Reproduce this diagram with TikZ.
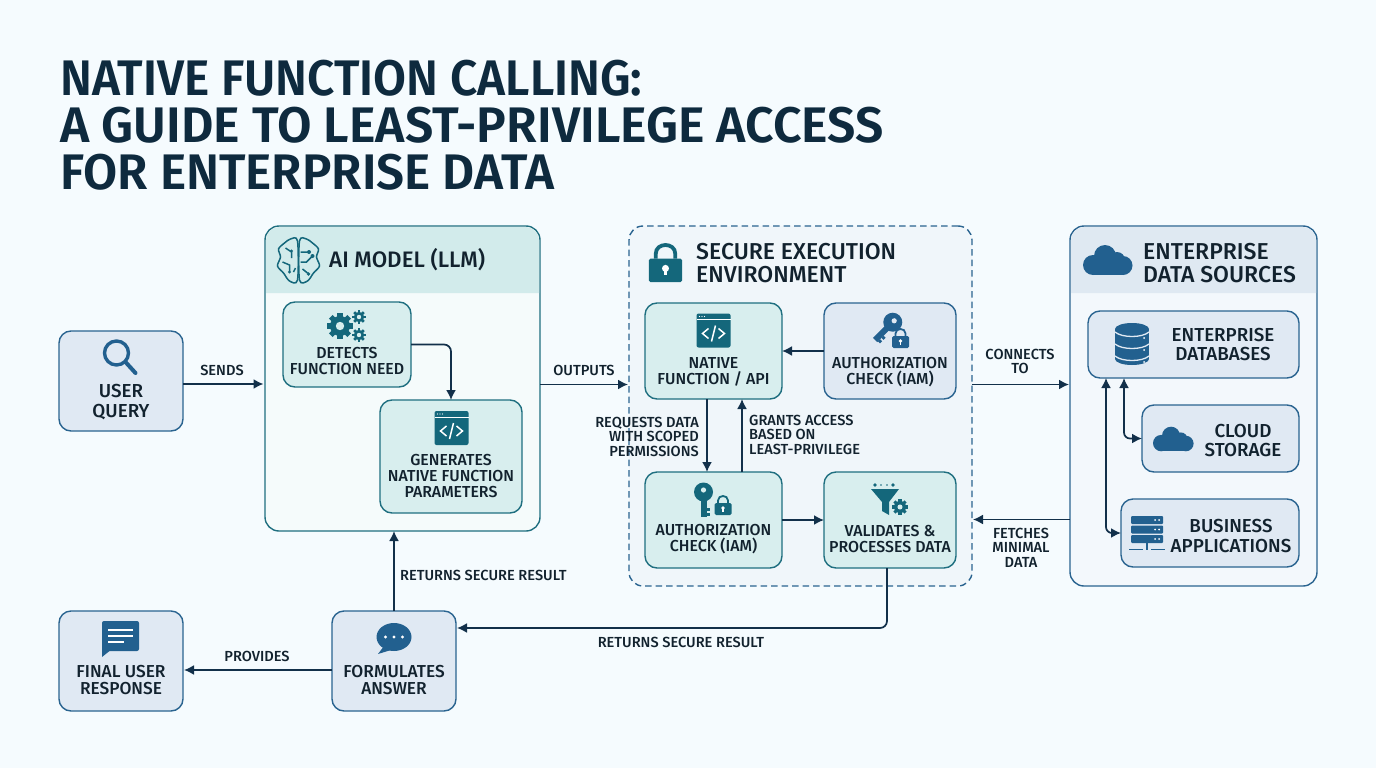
\documentclass[tikz,border=0pt]{standalone}
\usepackage{fontspec}
\setmainfont{Fira Sans Medium}
\newfontfamily\titlefont{Fira Sans SemiBold}
\usetikzlibrary{arrows.meta}

\definecolor{pagebg}{HTML}{F5FBFE}
\definecolor{inkdark}{HTML}{0E2A3E}
\definecolor{inktext}{HTML}{12222E}
\definecolor{linkdark}{HTML}{12304A}
\definecolor{tealline}{HTML}{1F6F80}
\definecolor{tealfill}{HTML}{D8EEEE}
\definecolor{tealhead}{HTML}{D2EBEB}
\definecolor{tealpanel}{HTML}{F5FBFB}
\definecolor{tealicon}{HTML}{14677B}
\definecolor{blueline}{HTML}{2A6490}
\definecolor{bluefill}{HTML}{E0E9F3}
\definecolor{bluehead}{HTML}{DFE9F2}
\definecolor{bluepanel}{HTML}{F3F8FC}
\definecolor{blueicon}{HTML}{22608F}
\definecolor{securefill}{HTML}{F0F6FA}

\tikzset{
	box/.style={rectangle,rounded corners=12pt,line width=1.4pt,outer sep=0pt,inner sep=0pt},
	tealbox/.style={box,draw=tealline,fill=tealfill},
	bluebox/.style={box,draw=blueline,fill=bluefill},
	boxtext/.style={text=inktext,align=center,inner sep=0pt,font=\fontsize{15.9}{16}\selectfont},
	bigtext/.style={text=inktext,align=center,inner sep=0pt,font=\fontsize{18.8}{19.5}\selectfont},
	headtext/.style={text=inktext,align=left,anchor=west,inner sep=0pt,font=\fontsize{23}{23}\selectfont},
	edgetext/.style={text=inktext,align=center,inner sep=0pt,font=\fontsize{14.6}{14.5}\selectfont},
	flow/.style={draw=linkdark,line width=1.7pt,->},
	pics/codeicon/.style={code={
		\fill[rounded corners=2pt] (-17,-17) rectangle (17,17);
		\draw[white,line width=.7pt] (-17,-11) -- (17,-11);
		\foreach \x in {-14,-11.5,-9}
			\fill[white] (\x,-14) circle (.7);
		\draw[white,line width=1.5pt] (-5,-2) -- (-11,3) -- (-5,8) (5,-2) -- (11,3) -- (5,8) (2,-5) -- (-2,11);
	}},
	pics/cogwheel/.style={code={
		\foreach \a in {0,45,...,315}
			\fill[rotate=\a] (-2.6,-13) rectangle (2.6,-8);
		\fill (0,0) circle (10);
		\fill[#1] (0,0) circle (4.2);
	}},
	pics/lockicon/.style={code={
		\fill[rounded corners=1.5pt] (-8.5,-3) rectangle (8.5,9);
		\draw[line width=#1] (-5,-3) -- (-5,-5.5) .. controls (-5,-11.5) and (5,-11.5) .. (5,-5.5) -- (5,-3);
		\fill[white] (0,2) circle (1.8);
		\fill[white] (-.8,2) rectangle (.8,5.5);
	}},
	pics/keyicon/.style={code={
		\fill (0,-11) circle (9.5);
		\fill (-3,-4) rectangle (3,14);
		\fill (3,5) rectangle (6,8);
		\fill (3,10) rectangle (6,13);
		\fill[#1] (0,-13) circle (2.6);
	}},
	pics/cloudicon/.style={code={
		\fill (-15,5) circle (10);
		\fill (-3,-4) circle (11);
		\fill (9,0) circle (8);
		\fill (15,5.5) circle (9.5);
		\fill (-15,3) rectangle (15,15);
	}},
	pics/dbicon/.style={code={
		\fill (-17,-15) rectangle (17,15);
		\fill (0,-15) ellipse (17 and 6);
		\fill (0,15) ellipse (17 and 6);
		\foreach \y in {-12,0,12} {
			\draw[bluefill,line width=1.3pt] (-17,\y) .. controls (-10,\y+6) and (10,\y+6) .. (17,\y);
			\fill[white] (12,\y+6) circle (1);
		}
	}},
	pics/servericon/.style={code={
		\foreach \y in {-13,-3.5,6} {
			\fill[rounded corners=1pt] (-16,\y) rectangle (16,\y+8);
			\fill[white] (8,\y+4) circle (1) (12,\y+4) circle (1);
		}
		\fill (-1,14) rectangle (1,21);
		\fill (-18,19.5) rectangle (-4,21);
		\fill (4,19.5) rectangle (18,21);
	}}
}

\begin{document}
\begin{tikzpicture}[x=1pt,y=-1pt,>={Latex[length=10pt,width=10pt]}]
	\useasboundingbox (0,0) rectangle (1376,768);
	\fill[pagebg] (0,0) rectangle (1376,768);

	\node[anchor=north west,inner sep=0pt,text=inkdark,align=left,font=\titlefont\fontsize{50}{47}\selectfont] (title) at (60,60)
		{\scalebox{.955}[1]{NATIVE FUNCTION CALLING:}\\A GUIDE TO LEAST-PRIVILEGE ACCESS\\\scalebox{.99}[1]{FOR ENTERPRISE DATA}};

	% panels
	\node[box,rounded corners=14pt,draw=tealline,fill=tealpanel,minimum width=275pt,minimum height=305pt] (model) at (402.5,378.5) {};
	\fill[tealhead] (266,293) [rounded corners=13pt] -- (266,227) -- (539,227) [sharp corners] -- (539,293) -- cycle;
	\node[box,rounded corners=14pt,draw=blueline,dash pattern=on 6.5pt off 4pt,fill=securefill,minimum width=343pt,minimum height=360pt] (secure) at (800.5,406) {};
	\node[box,rounded corners=14pt,draw=blueline,fill=bluepanel,minimum width=247pt,minimum height=360pt] (data) at (1193.5,406) {};
	\fill[bluehead] (1071,293) [rounded corners=13pt] -- (1071,227) -- (1316,227) [sharp corners] -- (1316,293) -- cycle;

	% boxes
	\node[bluebox,minimum width=124pt,minimum height=100pt] (user) at (121,381) {};
	\node[tealbox,minimum width=128pt,minimum height=85pt] (detect) at (347,344.5) {};
	\node[tealbox,minimum width=142pt,minimum height=113pt] (gen) at (451,456.5) {};
	\node[tealbox,minimum width=137pt,minimum height=96pt] (native) at (713.5,351) {};
	\node[bluebox,minimum width=132pt,minimum height=96pt] (authtop) at (890,351) {};
	\node[tealbox,minimum width=137pt,minimum height=96pt] (authlow) at (713.5,520) {};
	\node[tealbox,minimum width=132pt,minimum height=96pt] (valid) at (890,520) {};
	\node[bluebox,minimum width=211pt,minimum height=67pt] (dbs) at (1193.5,344.5) {};
	\node[bluebox,minimum width=157pt,minimum height=67pt] (cloud) at (1220.5,438.5) {};
	\node[bluebox,minimum width=178pt,minimum height=68pt] (apps) at (1210,533) {};
	\node[bluebox,minimum width=124pt,minimum height=100pt] (final) at (121,661) {};
	\node[bluebox,minimum width=124pt,minimum height=100pt] (answer) at (394,661) {};

	% box texts
	\node[bigtext] (usertxt) at (121,402) {USER\\QUERY};
	\node[boxtext] (detecttxt) at (347,361.5) {DETECTS\\FUNCTION NEED};
	\node[boxtext] (gentxt) at (451,476) {GENERATES\\NATIVE FUNCTION\\PARAMETERS};
	\node[boxtext] (nativetxt) at (713.5,371.5) {NATIVE\\FUNCTION / API};
	\node[boxtext] (authtoptxt) at (890,372.5) {AUTHORIZATION\\CHECK (IAM)};
	\node[boxtext] (authlowtxt) at (713.5,539.5) {AUTHORIZATION\\CHECK (IAM)};
	\node[boxtext] (validtxt) at (890,539.5) {VALIDATES \&\\PROCESSES DATA};
	\node[bigtext] (dbstxt) at (1223,344.5) {ENTERPRISE\\DATABASES};
	\node[bigtext] (cloudtxt) at (1243,440.5) {CLOUD\\STORAGE};
	\node[bigtext] (appstxt) at (1231,536) {BUSINESS\\APPLICATIONS};
	\node[boxtext,font=\fontsize{17.3}{17}\selectfont] (finaltxt) at (121,680.5) {FINAL USER\\RESPONSE};
	\node[boxtext,font=\fontsize{17.3}{17}\selectfont] (answertxt) at (394,680.5) {FORMULATES\\ANSWER};
	\node[headtext,font=\fontsize{22.4}{23}\selectfont] (modelhead) at (329,260) {AI MODEL (LLM)};
	\node[headtext] (securehead) at (696,263.5) {SECURE EXECUTION\\ENVIRONMENT};
	\node[headtext] (datahead) at (1143,263.5) {ENTERPRISE\\DATA SOURCES};

	% connectors
	\draw[flow] ([yshift=-3pt]user.east) -- ([yshift=-3pt,xshift=-1.5pt]user.east -| model.west);
	\draw[flow] ([yshift=21.5pt]secure.west -| model.east) -- ([yshift=21.5pt,xshift=-1pt]secure.west);
	\draw[flow,rounded corners=7pt] (detect.east) -| (gen.north);
	\draw[flow] (authtop.west) -- (native.east);
	\draw[flow] ([xshift=-6.5pt]native.south) -- ([xshift=-6.5pt]authlow.north);
	\draw[flow] ([xshift=28.5pt]authlow.north) -- ([xshift=28.5pt]native.south);
	\draw[flow] (authlow.east) -- (valid.west);
	\draw[flow] ([yshift=21.5pt]secure.east) -- ([yshift=21.5pt,xshift=-1pt]secure.east -| data.west);
	\draw[flow] ([yshift=-113.5pt]secure.east -| data.west) -- ([yshift=-113.5pt,xshift=1pt]secure.east);
	\draw[flow,<->,rounded corners=6pt] ([xshift=36pt]dbs.south west) |- (cloud.west);
	\draw[flow,<->,rounded corners=6pt] ([xshift=18pt]dbs.south west) |- (apps.west);
	\draw[flow,rounded corners=7pt] ([xshift=-3pt]valid.south) |- ([yshift=33pt,xshift=1pt]answer.east);
	\draw[flow] (answer.north) -- (answer.north |- model.south);
	\draw[flow] ([yshift=-9pt]answer.west) -- ([yshift=-9pt,xshift=1pt]final.east);

	% connector labels
	\node[edgetext] (sendslab) at (222,370) {SENDS};
	\node[edgetext] (outputslab) at (584,370) {OUTPUTS};
	\node[edgetext] (connectslab) at (1020,361.5) {CONNECTS\\TO};
	\node[edgetext] (fetcheslab) at (1021,547.5) {FETCHES\\MINIMAL\\DATA};
	\node[edgetext,align=right,anchor=east] (requestslab) at (699,436.5) {REQUESTS DATA\\WITH SCOPED\\PERMISSIONS};
	\node[edgetext,align=left,anchor=west] (grantslab) at (749,434.5) {GRANTS ACCESS\\BASED ON\\LEAST-PRIVILEGE};
	\node[edgetext,anchor=west] (backlab) at (400,575) {RETURNS SECURE RESULT};
	\node[edgetext] (returnslab) at (681,642) {RETURNS SECURE RESULT};
	\node[edgetext] (provideslab) at (257,656) {PROVIDES};

	% icons
	\draw[blueicon,line width=3.4pt] (116.5,353) circle (12);
	\draw[blueicon,line width=4pt,line cap=round] (125.5,362) -- (135.5,373);

	\begin{scope}[tealicon,line width=1.5pt,shift={(298.5,260)}]
		\draw plot[smooth cycle] coordinates {(-1,-19) (-8,-21) (-14,-17) (-20,-11) (-18,-3) (-21,6) (-15,13) (-9,21) (-1,20)};
		\draw plot[smooth cycle] coordinates {(1,-19) (8,-21) (14,-17) (20,-11) (18,-3) (21,6) (15,13) (9,21) (1,20)};
		\draw (-13,-12) -- (-7,-8) -- (-7,-2) (-16,2) -- (-9,5) -- (-9,11) (-5,12) -- (-3,8);
		\draw (2,-8) -- (9,-8) (2,2) -- (8,2) -- (13,-3) (4,9) -- (9,13);
		\fill (10.5,-8) circle (2) (14,-4) circle (2) (10,14) circle (1.8) (-7,-9) circle (1.6) (-9,12) circle (1.6);
	\end{scope}

	\pic[tealicon] at (340,326) {cogwheel=tealfill};
	\pic[tealicon,scale=.52] at (359,317) {cogwheel=tealfill};
	\pic[tealicon,scale=.52] at (359,335) {cogwheel=tealfill};

	\pic[tealicon] at (451.5,428) {codeicon};
	\pic[tealicon] at (713.5,330.5) {codeicon};

	\pic[tealicon,scale=1.95] at (665.5,264.5) {lockicon=3.8pt};
	\pic[blueicon,rotate=-45] at (885,330) {keyicon=bluefill};
	\pic[blueicon] at (900.5,339) {lockicon=1.8pt};
	\pic[tealicon] at (703.5,503) {keyicon=tealfill};
	\pic[tealicon] at (723,506) {lockicon=1.8pt};

	\fill[tealicon] (871,489) -- (899,489) -- (889,502) -- (889,515) -- (882,511) -- (882,502) -- cycle;
	\fill[tealicon] (875,485) circle (1.8) (893,485) circle (1.8);
	\fill[tealicon] (881,485) circle (.8) (887,485) circle (.8);
	\pic[tealicon,scale=.6] at (900,507) {cogwheel=tealfill};

	\pic[blueicon] at (1108,260) {cloudicon};
	\pic[blueicon,scale=.82] at (1173.5,439) {cloudicon};
	\pic[blueicon] at (1132,344) {dbicon};
	\pic[blueicon] at (1147,529) {servericon};

	\fill[blueicon,rounded corners=2pt] (102,621) rectangle (139,651);
	\fill[blueicon] (102,645) -- (102,657) -- (112,649) -- cycle;
	\draw[white,line width=1.4pt] (108,630) -- (133,630) (108,636) -- (133,636) (108,642) -- (124,642);

	\fill[blueicon] (394,637) ellipse (17.5 and 14);
	\fill[blueicon] (384,646) -- (378,654) -- (391,650) -- cycle;
	\fill[white] (385.5,637) circle (1.6) (394,637) circle (1.6) (402.5,637) circle (1.6);
\end{tikzpicture}
\end{document}
